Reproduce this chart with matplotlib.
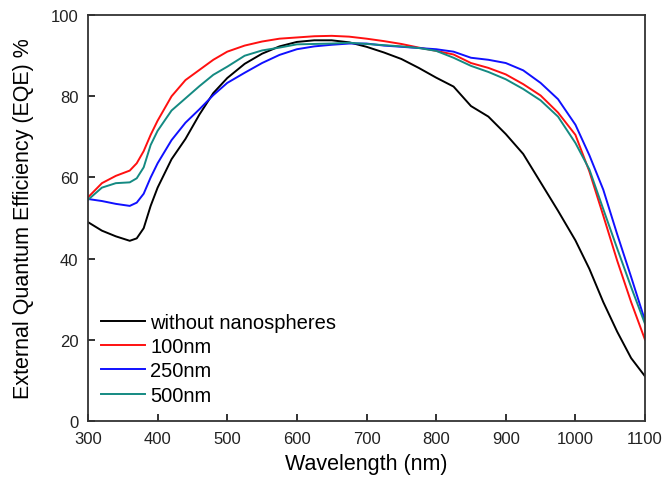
import matplotlib
matplotlib.use('Agg')
import matplotlib.pyplot as plt

plt.rcParams['font.family'] = ['Liberation Sans', 'DejaVu Sans']

# wavelength grid (nm) and EQE (%)
wavelength = [300, 320, 340, 360, 370, 380, 390, 400, 420, 440, 460, 480, 500,
              525, 550, 575, 600, 625, 650, 675, 700, 725, 750, 775, 800, 825,
              850, 875, 900, 925, 950, 975, 1000, 1020, 1040, 1060, 1080, 1100]

eqe_bare = [49.0, 46.9, 45.5, 44.4, 45.0, 47.5, 53.0, 57.5, 64.5, 69.5, 75.5, 80.8, 84.5,
            88.0, 90.5, 92.3, 93.4, 93.8, 93.8, 93.3, 92.2, 90.8, 89.2, 87.0, 84.6, 82.4,
            77.6, 75.0, 70.7, 65.8, 58.8, 51.8, 44.5, 37.5, 29.3, 22.0, 15.5, 11.0]
eqe_100 = [55.1, 58.6, 60.4, 61.7, 63.5, 66.5, 70.5, 74.0, 80.0, 84.0, 86.5, 89.0, 91.0,
           92.5, 93.5, 94.2, 94.5, 94.8, 94.9, 94.7, 94.2, 93.6, 92.9, 92.0, 91.2, 90.3,
           88.2, 87.0, 85.4, 83.0, 80.2, 76.0, 70.5, 61.5, 50.6, 39.5, 29.3, 20.0]
eqe_250 = [54.7, 54.2, 53.5, 53.0, 53.8, 56.0, 60.0, 63.5, 69.2, 73.5, 76.8, 80.3, 83.3,
           85.8, 88.2, 90.2, 91.6, 92.3, 92.7, 93.0, 93.0, 92.5, 92.2, 91.9, 91.6, 91.0,
           89.5, 89.0, 88.2, 86.4, 83.3, 79.3, 73.0, 65.5, 57.0, 46.0, 35.5, 24.7]
eqe_500 = [54.5, 57.5, 58.6, 58.8, 59.8, 62.5, 68.0, 71.5, 76.5, 79.5, 82.5, 85.3, 87.3,
           90.0, 91.3, 92.0, 92.8, 92.9, 93.0, 93.2, 92.9, 92.6, 92.3, 91.9, 91.2, 89.5,
           87.5, 86.0, 84.2, 81.8, 79.0, 75.0, 68.5, 62.0, 52.2, 42.5, 33.0, 23.9]

labels = ['without nanospheres', '100nm', '250nm', '500nm']
colors = ['#000000', '#ff1010', '#1010ff', '#148a82']

fig = plt.figure(figsize=(6.65, 4.89), dpi=100)
ax = fig.add_axes([0.1323, 0.137, 0.8377, 0.830])

for y, lab, c in zip([eqe_bare, eqe_100, eqe_250, eqe_500], labels, colors):
    ax.plot(wavelength, y, color=c, lw=1.4, label=lab)

ax.set_xlim(300, 1100)
ax.set_ylim(0, 100)
ax.set_xticks(range(300, 1101, 100))
ax.set_yticks(range(0, 101, 20))
ax.tick_params(direction='in', length=5, width=1.3, labelsize=12, pad=7, colors='#222222')
for s in ax.spines.values():
    s.set_linewidth(1.3)
    s.set_color('#333333')

ax.set_xlabel('Wavelength (nm)', fontsize=15.5, labelpad=5)
ax.set_ylabel('External Quantum Efficiency (EQE) %', fontsize=15.5, labelpad=12)

ax.legend(loc='lower left', bbox_to_anchor=(-0.006, 0.0), frameon=False, fontsize=14.5,
          handlelength=2.2, handletextpad=0.25, labelspacing=0.27, borderaxespad=0.4)

fig.savefig('out.png', dpi=100)
